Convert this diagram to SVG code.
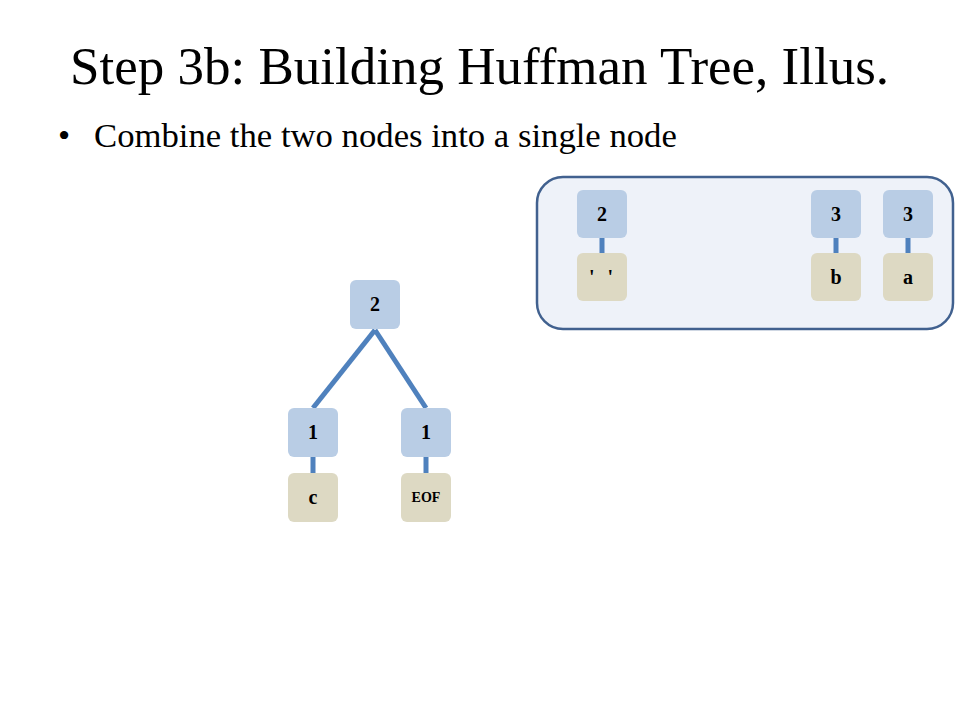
<svg xmlns="http://www.w3.org/2000/svg" width="960" height="720" viewBox="0 0 960 720">
<style>
.title{font-family:"Liberation Serif","Times New Roman",serif;font-size:53px;fill:#000}
.bullet{font-family:"Liberation Serif","Times New Roman",serif;font-size:34.7px;fill:#000}
.inner{fill:#b9cde5}
.leaf{fill:#ddd9c3}
.lbl{font-family:"Liberation Serif","Times New Roman",serif;font-size:20px;font-weight:bold;fill:#000;text-anchor:middle}
.small{font-size:14px}
.edge{stroke:#4f81bd;stroke-width:5;fill:none}
</style>
<rect width="960" height="720" fill="#fff"/>
<text class="title" x="70" y="84">Step 3b: Building Huffman Tree, Illus.</text>
<text class="bullet" x="58" y="147">•</text>
<text class="bullet" x="94" y="147">Combine the two nodes into a single node</text>
<rect id="queue" x="537" y="177" width="416" height="152" rx="26" ry="26" fill="#eef2f9" stroke="#41618f" stroke-width="2.5"/>
<g id="connectors">
<line class="edge" x1="602" y1="238" x2="602" y2="253"/>
<line class="edge" x1="836" y1="238" x2="836" y2="253"/>
<line class="edge" x1="908" y1="238" x2="908" y2="253"/>
<line class="edge" x1="375" y1="330" x2="313" y2="408"/>
<line class="edge" x1="375" y1="330" x2="426" y2="408"/>
<line class="edge" x1="313" y1="457" x2="313" y2="473"/>
<line class="edge" x1="426" y1="457" x2="426" y2="473"/>
</g>
<g id="q-space-count"><rect class="inner" x="577" y="190" width="50" height="48" rx="6"/><text class="lbl" x="602" y="221">2</text></g>
<g id="q-space"><rect class="leaf" x="577" y="253" width="50" height="48" rx="6"/><text class="lbl" x="601" y="284" word-spacing="8">' '</text></g>
<g id="q-b-count"><rect class="inner" x="811" y="190" width="50" height="48" rx="6"/><text class="lbl" x="836" y="221">3</text></g>
<g id="q-b"><rect class="leaf" x="811" y="253" width="50" height="48" rx="6"/><text class="lbl" x="836" y="284">b</text></g>
<g id="q-a-count"><rect class="inner" x="883" y="190" width="50" height="48" rx="6"/><text class="lbl" x="908" y="221">3</text></g>
<g id="q-a"><rect class="leaf" x="883" y="253" width="50" height="48" rx="6"/><text class="lbl" x="908" y="284">a</text></g>
<g id="root"><rect class="inner" x="350" y="280" width="50" height="49" rx="6"/><text class="lbl" x="375" y="311">2</text></g>
<g id="left-count"><rect class="inner" x="288" y="408" width="50" height="49" rx="6"/><text class="lbl" x="313" y="439">1</text></g>
<g id="left-c"><rect class="leaf" x="288" y="473" width="50" height="49" rx="6"/><text class="lbl" x="313" y="504">c</text></g>
<g id="right-count"><rect class="inner" x="401" y="408" width="50" height="49" rx="6"/><text class="lbl" x="426" y="439">1</text></g>
<g id="right-eof"><rect class="leaf" x="401" y="473" width="50" height="49" rx="6"/><text class="lbl small" x="426" y="502">EOF</text></g>
</svg>
